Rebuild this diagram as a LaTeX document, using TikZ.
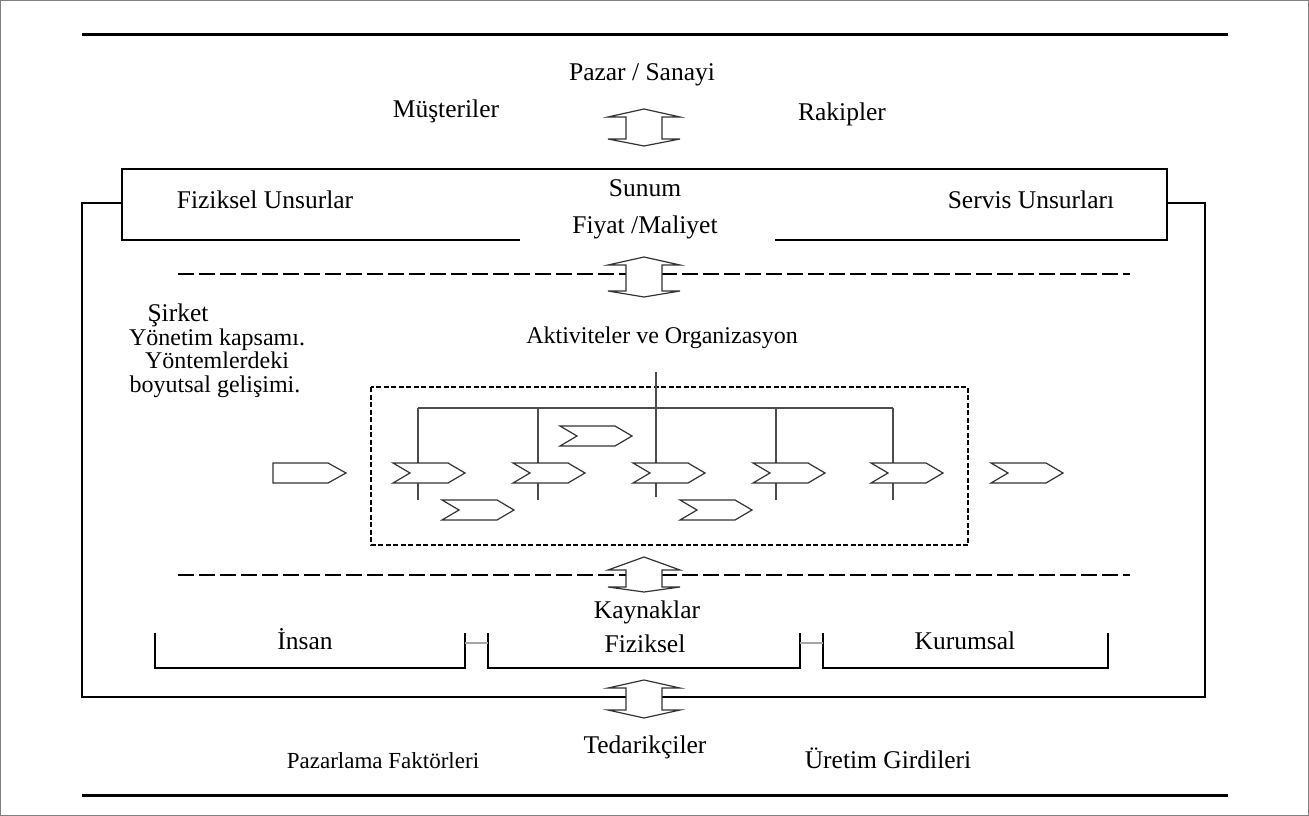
\documentclass[tikz,border=0pt]{standalone}
\usepackage{fontspec}
\setmainfont{Liberation Serif}
\begin{document}
\begin{tikzpicture}[x=1pt,y=-1pt,
  txt/.style={font=\fontsize{25.5}{30}\selectfont, inner sep=0pt, anchor=base},
  txtm/.style={font=\fontsize{24}{28}\selectfont, inner sep=0pt, anchor=base},
  txts/.style={font=\fontsize{23}{27}\selectfont, inner sep=0pt, anchor=base},
  frame/.style={line width=1.4pt, black},
  heavy/.style={line width=3pt, black},
  dashline/.style={line width=1.3pt, dash pattern=on 16pt off 5pt},
  org/.style={line width=1.2pt, gray!60!black},
  chev/.style={line width=1.2pt, draw=black!80, fill=white, line join=miter},
  darr/.style={line width=1.2pt, draw=black!80, fill=white},
]
\useasboundingbox (0,0) rectangle (1309,816);
\draw[line width=1pt, gray] (0.5,0.5) rectangle (1308.5,815.5);

% heavy rules
\coordinate (tl) at (82,35); \coordinate (tr) at (1228,35);
\coordinate (bl) at (82,795); \coordinate (br) at (1228,795);
\draw[heavy] (tl) -- (tr);
\draw[heavy] (bl) -- (br);

% top texts
\node[txt] (pazar) at (642,81) {Pazar / Sanayi};
\node[txt] (must) at (446,117) {Müşteriler};
\node[txt] (rak) at (842,120) {Rakipler};

% outer frame
\coordinate (fl1) at (82,203); \coordinate (fl2) at (82,697);
\coordinate (fr1) at (1205,203); \coordinate (fr2) at (1205,697);
\draw[frame] (122,203) -- (fl1) -- (fl2) -- (fr2) -- (fr1) -- (1167,203);

% offering box
\draw[frame] (520,240) -- (122,240) -- (122,169) -- (1167,169) -- (1167,240) -- (775,240);
\node[txt] (fiz) at (265,208) {Fiziksel Unsurlar};
\node[txt] (sunum) at (645,196) {Sunum};
\node[txt] (fiyat) at (645,233) {Fiyat /Maliyet};
\node[txt] (serv) at (1031,208) {Servis Unsurları};

% dashed lines
\draw[dashline] (178,274) -- (1130,274);
\draw[dashline] (178,575) -- (1130,575);

% company text
\node[txt] (s1) at (178,321) {Şirket};
\node[txtm] (s2) at (217,345) {Yönetim kapsamı.};
\node[txtm] (s3) at (217,368) {Yöntemlerdeki};
\node[txtm] (s4) at (215,392) {boyutsal gelişimi.};

\node[txtm] (akt) at (662,343) {Aktiviteler ve Organizasyon};

% dashed org box
\draw[line width=1.3pt, dash pattern=on 5pt off 2.5pt] (371,387) rectangle (968,545);

% org chart lines
\draw[org] (656,372) -- (656,497);
\draw[org] (418,408) -- (893,408);
\foreach \x in {418,538,776,893} \draw[org] (\x,408) -- (\x,500);

% chevrons
\newcommand\Chev[3]{\draw[chev] (#1,#2-10) -- (#1+55,#2-10) -- (#1+72,#2) -- (#1+55,#2+10) -- (#1,#2+10) -- (#1+17,#2) -- cycle node[coordinate] (#3) {};}
\draw[chev] (273,463) -- (328,463) -- (346,473) -- (328,483) -- (273,483) -- cycle;
\Chev{393}{473}{c1}
\Chev{513}{473}{c2}
\Chev{633}{473}{c3}
\Chev{753}{473}{c4}
\Chev{871}{473}{c5}
\Chev{991}{473}{c6}
\Chev{560}{436}{c7}
\Chev{442}{510}{c8}
\Chev{680}{510}{c9}

% resources brackets
\draw[frame] (155,633) -- (155,668) -- (465,668) -- (465,633);
\draw[frame] (488,633) -- (488,668) -- (800,668) -- (800,633);
\draw[frame] (823,633) -- (823,668) -- (1108,668) -- (1108,633);
\draw[line width=1.4pt, gray!70] (465,643) -- (488,643);
\draw[line width=1.4pt, gray!70] (800,643) -- (823,643);
\node[txt] (kayn) at (647,618) {Kaynaklar};
\node[txt] (insan) at (305,649) {İnsan};
\node[txt] (fizk) at (645,652) {Fiziksel};
\node[txt] (kur) at (965,649) {Kurumsal};

% bottom texts
\node[txts] (pf) at (383,768) {Pazarlama Faktörleri};
\node[txt] (ted) at (645,753) {Tedarikçiler};
\node[txt] (ug) at (888,768) {Üretim Girdileri};

% double arrows
\newcommand\DblArr[5]{\draw[darr] (#1,#2) -- (#1-36,#3) -- (#1-18,#3) -- (#1-18,#4) -- (#1-36,#4) -- (#1,#5) -- (#1+36,#4) -- (#1+18,#4) -- (#1+18,#3) -- (#1+36,#3) -- cycle;}
\DblArr{644}{109}{117}{139}{146}
\DblArr{644}{257}{265}{291}{297}
\DblArr{644}{557}{570}{587}{592}
\DblArr{644}{680}{688}{710}{718}
\end{tikzpicture}
\end{document}
